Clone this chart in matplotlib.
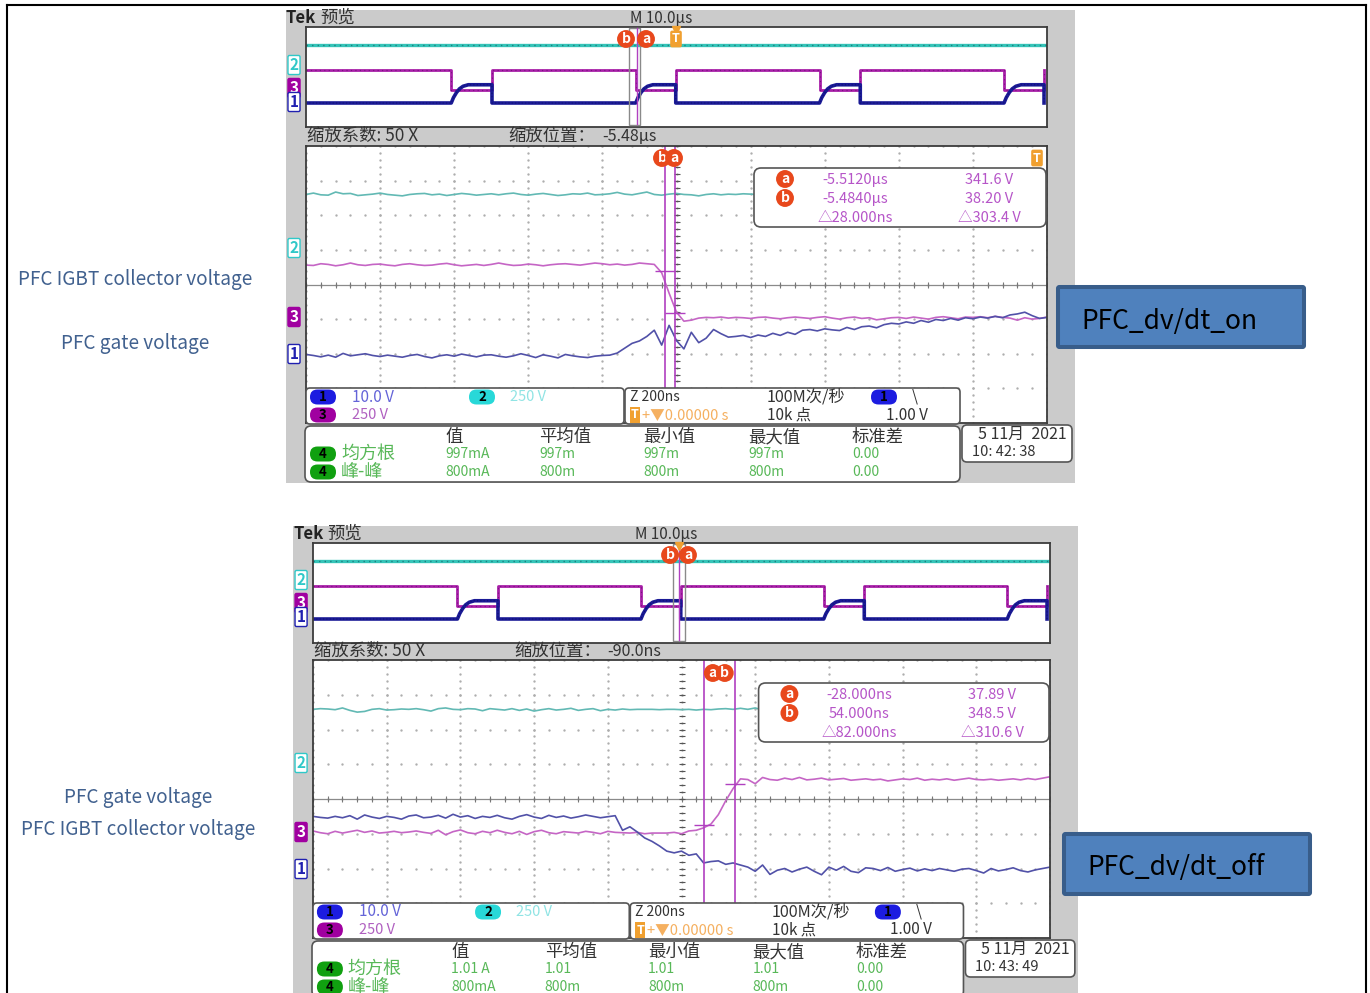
import matplotlib
matplotlib.use("Agg")
import matplotlib.pyplot as plt
import numpy as np
from matplotlib.patches import FancyBboxPatch, Rectangle

plt.rcParams['font.family'] = ['Noto Sans CJK SC', 'DejaVu Sans']

# Zoom window traces, in divisions from the centre line, one sample every 20 ns
S1_CYAN = [2.60, 2.64, 2.59, 2.58, 2.67, 2.62, 2.63, 2.57, 2.59, 2.61, 2.64, 2.60, 2.58, 2.56, 2.60, 2.62,
           2.63, 2.59, 2.61, 2.57, 2.60, 2.63, 2.61, 2.58, 2.60, 2.62, 2.59, 2.62, 2.64, 2.60, 2.58, 2.61,
           2.63, 2.60, 2.57, 2.59, 2.62, 2.61, 2.64, 2.59, 2.60, 2.62, 2.66, 2.61, 2.59, 2.63, 2.67, 2.60,
           2.58, 2.61, 2.63, 2.60, 2.59, 2.56, 2.60, 2.62, 2.59, 2.61, 2.60, 2.62, 2.61, 2.60]
S1_MAGENTA = [0.56, 0.55, 0.60, 0.58, 0.54, 0.57, 0.62, 0.57, 0.55, 0.58,
              0.59, 0.56, 0.54, 0.58, 0.60, 0.57, 0.55, 0.56, 0.59, 0.61,
              0.57, 0.54, 0.56, 0.58, 0.55, 0.58, 0.62, 0.58, 0.55, 0.56,
              0.59, 0.57, 0.54, 0.57, 0.59, 0.60, 0.58, 0.56, 0.59, 0.62,
              0.60, 0.57, 0.59, 0.56, 0.58, 0.62, 0.60, 0.58, 0.34, -0.25,
              -0.80, -1.06, -1.03, -0.97, -0.95, -0.96, -0.94, -0.97, -0.95, -0.96,
              -0.98, -0.95, -0.94, -0.97, -0.99, -0.96, -0.94, -0.96, -0.98, -0.95,
              -0.93, -0.97, -1.00, -0.96, -0.94, -0.98, -0.96, -1.02, -0.99, -0.96,
              -0.95, -0.98, -0.94, -0.97, -1.00, -0.95, -0.93, -0.96, -0.99, -0.94,
              -0.95, -0.93, -0.96, -0.92, -0.95, -0.97, -1.03, -0.96, -1.00, -0.98, -0.94]
S1_BLUE = [-2.02, -2.05, -2.09, -2.04, -2.10, -1.99, -2.06, -2.03, -2.00, -2.05,
           -2.08, -2.04, -2.07, -2.10, -2.05, -2.02, -2.08, -2.12, -2.06, -2.03,
           -2.07, -2.01, -2.05, -2.09, -2.04, -2.03, -2.07, -2.10, -2.06, -2.00,
           -2.05, -2.11, -2.03, -2.07, -2.12, -2.02, -2.06, -2.09, -2.11, -2.07,
           -2.05, -2.04, -1.98, -1.84, -1.70, -1.63, -1.50, -1.32, -1.75, -1.18,
           -1.62, -1.86, -1.38, -1.68, -1.55, -1.30, -1.42, -1.52, -1.50, -1.47,
           -1.53, -1.46, -1.50, -1.41, -1.47, -1.38, -1.44, -1.32, -1.30, -1.34,
           -1.28, -1.31, -1.33, -1.24, -1.30, -1.22, -1.20, -1.25, -1.16, -1.12,
           -1.14, -1.08, -1.12, -1.04, -1.09, -1.01, -1.04, -0.98, -1.03, -0.96,
           -0.99, -0.94, -0.97, -0.92, -0.96, -0.88, -0.85, -0.80, -0.90, -0.98, -0.95]

S2_CYAN = [2.58, 2.60, 2.59, 2.57, 2.62, 2.55, 2.50, 2.52, 2.58, 2.60, 2.56, 2.57, 2.59, 2.58, 2.60, 2.57,
           2.53, 2.60, 2.62, 2.58, 2.57, 2.60, 2.59, 2.54, 2.60, 2.58, 2.56, 2.60, 2.55, 2.59, 2.53, 2.57,
           2.60, 2.56, 2.58, 2.61, 2.55, 2.58, 2.60, 2.54, 2.58, 2.56, 2.59, 2.57, 2.58, 2.58, 2.58, 2.57,
           2.58, 2.58, 2.57, 2.58, 2.56, 2.58, 2.57, 2.59, 2.60, 2.58, 2.61, 2.58, 2.62, 2.56]
S2_MAGENTA = [-0.92, -0.97, -1.00, -0.93, -0.98, -0.94, -0.90, -0.96, -0.92, -0.98,
              -0.96, -0.93, -0.97, -0.95, -0.92, -0.96, -0.99, -0.90, -1.03, -0.94,
              -0.89, -0.97, -1.00, -0.93, -0.97, -0.90, -0.96, -1.00, -0.93, -1.02,
              -0.94, -0.90, -0.97, -1.00, -0.94, -0.96, -0.98, -0.93, -0.96, -1.00,
              -0.93, -0.96, -0.97, -0.98, -0.96, -1.00, -0.98, -0.98, -0.98, -0.96,
              -1.00, -0.92, -0.90, -0.83, -0.72, -0.45, -0.05, 0.30, 0.58, 0.56,
              0.44, 0.62, 0.56, 0.54, 0.60, 0.56, 0.62, 0.55, 0.57, 0.60,
              0.55, 0.57, 0.59, 0.54, 0.56, 0.58, 0.55, 0.57, 0.52, 0.55,
              0.58, 0.56, 0.60, 0.54, 0.57, 0.55, 0.58, 0.54, 0.57, 0.60,
              0.56, 0.55, 0.57, 0.54, 0.56, 0.58, 0.55, 0.59, 0.56, 0.60, 0.64]
S2_BLUE = [-0.50, -0.53, -0.55, -0.50, -0.54, -0.48, -0.58, -0.46, -0.52, -0.56,
           -0.50, -0.53, -0.58, -0.49, -0.46, -0.54, -0.52, -0.47, -0.55, -0.44,
           -0.52, -0.48, -0.56, -0.50, -0.53, -0.47, -0.54, -0.58, -0.50, -0.45,
           -0.52, -0.56, -0.47, -0.53, -0.49, -0.55, -0.51, -0.46, -0.50, -0.54,
           -0.51, -0.48, -0.90, -0.80, -0.95, -1.12, -1.22, -1.35, -1.50, -1.55,
           -1.50, -1.62, -1.58, -1.84, -1.80, -1.78, -1.88, -1.84, -1.90, -1.96,
           -2.08, -1.90, -2.17, -2.05, -2.00, -2.10, -2.02, -1.96, -2.08, -2.18,
           -1.96, -2.05, -1.94, -2.08, -2.12, -1.98, -2.00, -2.06, -1.97, -2.08,
           -2.03, -1.99, -2.07, -2.01, -2.06, -2.00, -2.04, -2.08, -2.02, -2.00,
           -2.06, -2.13, -2.00, -2.07, -2.03, -1.98, -2.06, -2.10, -2.04, -2.00, -1.96]

# Overview window, microseconds and divisions
FALL_EDGES = [-30.4, -5.5, 19.3, 44.2]
RISE_EDGES = [-24.9, -0.1, 24.8, 49.6]
OV_CYAN = 2.54
OV_MAG_HIGH = 0.56
OV_MAG_LOW = -1.06
OV_BLUE_LOW = -2.08
OV_BLUE_SHAPE_T = [0.0, 0.3, 0.7, 1.1, 1.6, 2.3]
OV_BLUE_SHAPE_V = [-2.08, -1.65, -1.25, -0.95, -0.74, -0.62]

# Cursors: time in ns, level in divisions
S1_CURSOR_T = [-5512, -5484]
S1_CURSOR_V = [0.38, -0.82]
S2_CURSOR_T = [-28, 54]
S2_CURSOR_V = [-0.75, 0.42]

TABLE_HEADERS = ['值', '平均值', '最小值', '最大值', '标准差']
S1_RMS = ['997mA', '997m', '997m', '997m', '0.00']
S1_PP = ['800mA', '800m', '800m', '800m', '0.00']
S2_RMS = ['1.01 A', '1.01', '1.01', '1.01', '0.00']
S2_PP = ['800mA', '800m', '800m', '800m', '0.00']
S1_READOUT = [['-5.5120µs', '341.6 V'], ['-5.4840µs', '38.20 V'], ['△28.000ns', '△303.4 V']]
S2_READOUT = [['-28.000ns', '37.89 V'], ['54.000ns', '348.5 V'], ['△82.000ns', '△310.6 V']]

W, H = 1370, 993
GRAY = '#cbcbcb'
EDGE = '#3c3c3c'
CURSOR = '#b040c0'
RED = '#e8481c'
LABEL = '#41618f'
DARK = '#333333'
GREEN = '#58b858'

fig = plt.figure(figsize=(W / 100, H / 100), dpi=100, facecolor='white')
page = fig.add_axes([0, 0, 1, 1], zorder=0)
page.set_xlim(0, W)
page.set_ylim(H, 0)
page.axis('off')
top = fig.add_axes([0, 0, 1, 1], zorder=5)
top.set_xlim(0, W)
top.set_ylim(H, 0)
top.axis('off')
top.patch.set_alpha(0)


def px_axes(x0, y0, x1, y1, zorder=2):
    ax = fig.add_axes([x0 / W, 1 - y1 / H, (x1 - x0) / W, (y1 - y0) / H], zorder=zorder)
    ax.set_xticks([])
    ax.set_yticks([])
    for s in ax.spines.values():
        s.set_color(EDGE)
        s.set_linewidth(1.3)
    return ax


def round_box(x0, y0, x1, y1, r=5):
    top.add_patch(FancyBboxPatch((x0, y0), x1 - x0, y1 - y0, boxstyle=f'round,pad=0,rounding_size={r}',
                                 fc='white', ec='#555555', lw=1.2))


def pill(x, y, s, color):
    top.add_patch(FancyBboxPatch((x - 13, y - 7.5), 26, 15, boxstyle='round,pad=0,rounding_size=7.5',
                                 fc=color, ec='none'))
    top.text(x, y, s, fontsize=9.5, ha='center', va='center', color='black', fontweight='bold')


def badge(x, y, s):
    top.text(x, y, s, fontsize=10, ha='center', va='center', color='white', fontweight='bold',
             bbox=dict(boxstyle='circle,pad=0.14', fc=RED, ec='none'))


def tag(x, y, s, color, filled=False):
    top.text(x, y, s, fontsize=11, ha='center', va='center', color='white' if filled else color,
             fontweight='bold',
             bbox=dict(boxstyle='round,pad=0.1', fc=color if filled else 'white', ec=color, lw=1))


def overview_traces():
    mag_t, mag_v, blue_t, blue_v = [-50], [OV_MAG_HIGH], [-50], [OV_BLUE_LOW]
    for fall, rise in zip(FALL_EDGES, RISE_EDGES):
        mag_t += [fall, fall, rise, rise]
        mag_v += [OV_MAG_HIGH, OV_MAG_LOW, OV_MAG_LOW, OV_MAG_HIGH]
        blue_t += [fall + d for d in OV_BLUE_SHAPE_T] + [rise, rise]
        blue_v += OV_BLUE_SHAPE_V + [OV_BLUE_SHAPE_V[-1], OV_BLUE_LOW]
    return mag_t, mag_v, blue_t, blue_v


def draw_scope(x0, dy, scale, ov_rect, zoom_rect, centre_ns, cyan, magenta, blue, cursor_t, cursor_v,
               readout, rms, pp, zoom_pos, stamp, ov_badges, ov_window, zoom_badges, trig):
    sx = lambda p: x0 + (p - 306) * scale
    sy = lambda p: p + dy
    head_y = ov_rect[1] - 9

    page.add_patch(Rectangle((sx(286), ov_rect[1] - 17), sx(1075) - sx(286), min(sy(483), H) - ov_rect[1] + 17,
                             fc=GRAY, ec='none'))

    # overview window
    ov = px_axes(*ov_rect)
    ov.set_xlim(-50, 50)
    ov.set_ylim(-4, 4)
    mag_t, mag_v, blue_t, blue_v = overview_traces()
    ov.plot([-50, 50], [OV_CYAN, OV_CYAN], color='#35c4b8', lw=2.4)
    ov.plot([-50, 50], [OV_CYAN, OV_CYAN], color='#1d7f80', lw=1.0, ls=(0, (1, 3)))
    ov.plot(mag_t, mag_v, color='#a81fa8', lw=2.0)
    ov.plot(mag_t, mag_v, color='#7a1080', lw=0.8, ls=(0, (1, 3)))
    ov.plot(blue_t, blue_v, color='#1a1a96', lw=2.6)
    ov.plot(blue_t, blue_v, color='#101070', lw=0.8, ls=(0, (1, 2)))
    top.add_patch(Rectangle((sx(ov_window[0]), ov_rect[1] + 1), sx(ov_window[1]) - sx(ov_window[0]), 97,
                            fc='none', ec='#8a8a8a', lw=1))
    top.plot([sx(ov_window[2])] * 2, [ov_rect[1] + 1, ov_rect[1] + 97], color=CURSOR, lw=1)
    for bx, s in ov_badges:
        if s == 'T':
            top.text(sx(bx), ov_rect[1] + 12, s, fontsize=9, ha='center', va='center', color='white',
                     fontweight='bold', bbox=dict(boxstyle='round,pad=0.15', fc='#f0a030', ec='none'))
        else:
            badge(sx(bx), ov_rect[1] + 12, s)
    top.plot([sx(trig)], [ov_rect[1] + 3], marker='v', ms=6, color='#f0a030')

    # zoom window
    zm = px_axes(*zoom_rect)
    zm.set_xlim(centre_ns - 1000, centre_ns + 1000)
    zm.set_ylim(-4, 4)
    xdiv = centre_ns + np.arange(-5, 6) * 200
    ydiv = np.arange(-4, 5)
    xsub = centre_ns + np.arange(-25, 26) * 40
    ysub = np.arange(-20, 21) / 5
    for y in ydiv:
        zm.plot(xsub, [y] * len(xsub), ls='none', marker='.', ms=1.4, color='#adadad')
    for x in xdiv:
        zm.plot([x] * len(ysub), ysub, ls='none', marker='.', ms=1.4, color='#adadad')
    zm.axhline(0, color='#8a8a8a', lw=0.9)
    zm.plot(xsub, [0] * len(xsub), ls='none', marker='|', ms=5, mew=0.8, color='#777777')
    zm.plot([centre_ns] * len(ysub), ysub, ls='none', marker='_', ms=5, mew=0.8, color='#555555')
    t = np.linspace(centre_ns - 1000, centre_ns + 1000, 101)
    zm.plot(t[:len(cyan)], cyan, color='#62b9b4', lw=1.2)
    zm.plot(t, magenta, color='#c565c5', lw=1.2)
    zm.plot(t, blue, color='#5151a8', lw=1.2)
    for ct, cv in zip(cursor_t, cursor_v):
        zm.axvline(ct, color=CURSOR, lw=1.2)
        zm.plot([ct], [cv], marker='_', ms=14, color=CURSOR, mew=1)

    # headings
    top.text(sx(286), head_y, 'Tek', fontsize=12, fontweight='bold', va='center', color='#222222')
    top.text(sx(320), head_y, '预览', fontsize=12.5, va='center', color=DARK)
    top.text(sx(630), head_y, 'M 10.0µs', fontsize=11, va='center', color=DARK)
    top.text(sx(307), sy(136), '缩放系数: 50 X', fontsize=12.5, va='center', color=DARK)
    top.text(sx(508), sy(136), '缩放位置：', fontsize=12.5, va='center', color=DARK)
    top.text(sx(602), sy(136), zoom_pos, fontsize=11.5, va='center', color=DARK)

    # channel tags
    for ty, s, col, fill in [(65, '2', '#30c8c8', False), (88, '3', '#a000a0', True), (102, '1', '#2020b0', False),
                             (248, '2', '#30c8c8', False), (317, '3', '#a000a0', True), (354, '1', '#2020b0', False)]:
        tag(sx(294), sy(ty), s, col, fill)

    # cursor readout
    round_box(sx(754), sy(168), sx(1046), sy(227), r=7)
    for k, row in enumerate(readout):
        ry = sy(180 + 19 * k)
        if k < 2:
            badge(sx(785), ry - 1, 'ab'[k])
        top.text(sx(855), ry, row[0], fontsize=10.5, ha='center', va='center', color='#b655c8')
        top.text(sx(989), ry, row[1], fontsize=10.5, ha='center', va='center', color='#b655c8')
    for bx, s in zoom_badges:
        if s == 'T':
            top.text(sx(bx), sy(158), s, fontsize=9, ha='center', va='center', color='white', fontweight='bold',
                     bbox=dict(boxstyle='round,pad=0.15', fc='#f0a030', ec='none'))
        else:
            badge(sx(bx), sy(158), s)

    # channel and timebase boxes
    round_box(sx(306), sy(388), sx(624), sy(424), r=4)
    round_box(sx(625), sy(388), sx(960), sy(424), r=4)
    pill(sx(323), sy(397), '1', '#1c1ce0')
    pill(sx(323), sy(415), '3', '#a000a0')
    pill(sx(482), sy(397), '2', '#28d8d8')
    pill(sx(884), sy(397), '1', '#1c1ce0')
    top.text(sx(352), sy(397), '10.0 V', fontsize=11, va='center', color='#6464d8')
    top.text(sx(352), sy(415), '250 V', fontsize=10.5, va='center', color='#b060c0')
    top.text(sx(510), sy(397), '250 V', fontsize=10.5, va='center', color='#90e4e4')
    top.text(sx(630), sy(397), 'Z 200ns', fontsize=10, va='center', color=DARK)
    top.text(sx(767), sy(397), '100M次/秒', fontsize=11.7, va='center', color=DARK)
    top.text(sx(912), sy(397), '\\', fontsize=11, va='center', color=DARK)
    top.text(sx(635), sy(415), 'T', fontsize=9, ha='center', va='center', color='white', fontweight='bold',
             bbox=dict(boxstyle='square,pad=0.1', fc='#f0a030', ec='none'))
    top.text(sx(642), sy(415), '+▼0.00000 s', fontsize=10.5, va='center', color='#f5b060')
    top.text(sx(767), sy(415), '10k 点', fontsize=11, va='center', color=DARK)
    top.text(sx(886), sy(415), '1.00 V', fontsize=11, va='center', color=DARK)

    # measurement table
    round_box(sx(305), sy(426), sx(960), sy(482), r=6)
    for hx, head, a, b in zip([445, 539, 643, 748, 852], TABLE_HEADERS, rms, pp):
        top.text(sx(hx), sy(437), head, fontsize=12.5, va='center', color=DARK)
        top.text(sx(hx), sy(454), a, fontsize=10, va='center', color=GREEN)
        top.text(sx(hx), sy(472), b, fontsize=10, va='center', color=GREEN)
    pill(sx(323), sy(454), '4', '#10a010')
    pill(sx(323), sy(472), '4', '#10a010')
    top.text(sx(341), sy(454), '均方根', fontsize=13, va='center', color=GREEN)
    top.text(sx(341), sy(472), '峰-峰', fontsize=13, va='center', color=GREEN)

    # date
    round_box(sx(962), sy(425), sx(1072), sy(462), r=5)
    top.text(sx(978), sy(434), stamp[0], fontsize=11.5, va='center', color=DARK)
    top.text(sx(972), sy(452), stamp[1], fontsize=10.5, va='center', color=DARK)


draw_scope(306, 0, 1.0, (306, 27, 1047, 127), (306, 146, 1047, 423), -5480,
           S1_CYAN, S1_MAGENTA, S1_BLUE, S1_CURSOR_T, S1_CURSOR_V, S1_READOUT, S1_RMS, S1_PP,
           '-5.48µs', ['5 11月  2021', '10: 42: 38'],
           [(626, 'b'), (646, 'a'), (676, 'T')], (629, 640, 637), [(662, 'b'), (674, 'a'), (1037, 'T')], 676)
draw_scope(313, 515, 737 / 741, (313, 543, 1050, 643), (313, 660, 1050, 938), -90,
           S2_CYAN, S2_MAGENTA, S2_BLUE, S2_CURSOR_T, S2_CURSOR_V, S2_READOUT, S2_RMS, S2_PP,
           '-90.0ns', ['5 11月  2021', '10: 43: 49'],
           [(665, 'b'), (683, 'a')], (668, 680, 674), [(708, 'a'), (720, 'b')], 674)

# page frame
page.plot([7, 7], [5, H], color='black', lw=1.5)
page.plot([1366.5, 1366.5], [5, H], color='black', lw=1.5)
page.plot([7, 1366.5], [5, 5], color='black', lw=1.5)

# notes outside the screenshots
for x, y, s in [(135, 279, 'PFC IGBT collector voltage'), (135, 343, 'PFC gate voltage'),
                (138, 798, 'PFC gate voltage'), (138, 830, 'PFC IGBT collector voltage')]:
    top.text(x, y, s, fontsize=13.7, ha='center', va='center', color=LABEL)

for x0, y0, s in [(1058, 287, 'PFC_dv/dt_on'), (1064, 834, 'PFC_dv/dt_off')]:
    top.add_patch(FancyBboxPatch((x0, y0), 246, 60, boxstyle='round,pad=0,rounding_size=1.5',
                                 fc='#4f81bd', ec='#385d8a', lw=2.9))
    top.text(x0 + 23, y0 + 34, s, fontsize=19, va='center', color='black')

fig.savefig('out.png', dpi=100)
